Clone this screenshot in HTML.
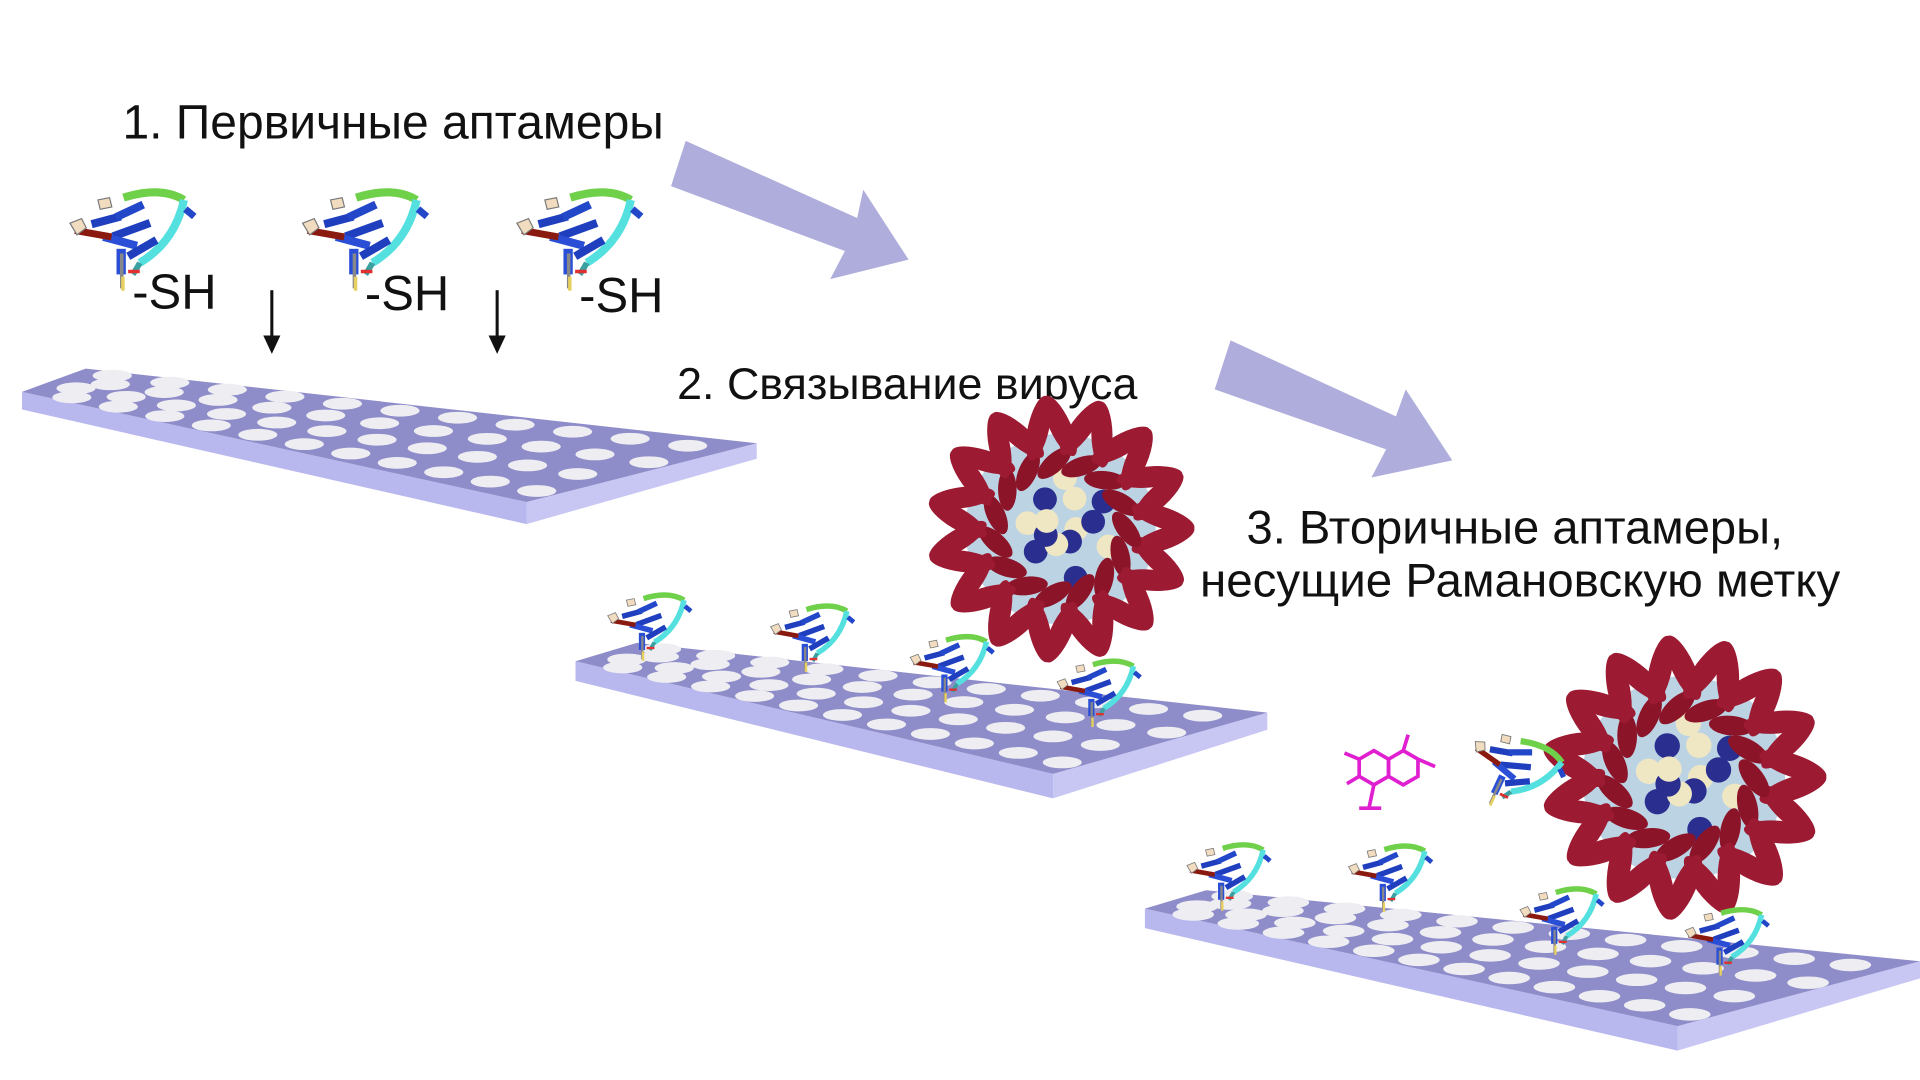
<!DOCTYPE html>
<html><head><meta charset="utf-8"><style>
html,body{margin:0;padding:0;background:#fff;}
svg{display:block}
text{font-family:"Liberation Sans","DejaVu Sans",sans-serif;fill:#111}
</style></head><body>
<svg id="s" width="1920" height="1080" viewBox="0 0 1568 882" xmlns="http://www.w3.org/2000/svg">
<defs>
<symbol id="apt" viewBox="0 0 110 100" overflow="visible">
<path d="M48 12 Q80 2 100 14" stroke="#6fd14a" stroke-width="7" fill="none"/>
<path d="M100 14 Q92 50 62 68" stroke="#55e0e0" stroke-width="7" fill="none"/>
<path d="M62 68 Q60 72 56 78" stroke="#3aa0a0" stroke-width="5" fill="none"/>
<rect x="20" y="28" width="26" height="7" fill="#1f3fbf" transform="rotate(-15 33 31)"/>
<rect x="40" y="20" width="26" height="7" fill="#2347c9" transform="rotate(-25 53 23)"/>
<rect x="38" y="36" width="34" height="7" fill="#1f3fbf" transform="rotate(-20 55 40)"/>
<rect x="30" y="46" width="30" height="7" fill="#2a4fd6" transform="rotate(15 45 50)"/>
<rect x="50" y="52" width="28" height="7" fill="#1f3fbf" transform="rotate(-30 64 55)"/>
<rect x="6" y="40" width="32" height="6" fill="#8a1a10" transform="rotate(10 22 43)"/>
<polygon points="2,34 12,30 16,38 8,44" fill="#f2dcc0" stroke="#777"/>
<polygon points="26,14 36,12 38,20 28,22" fill="#f2dcc0" stroke="#777"/>
<rect x="100" y="22" width="10" height="6" fill="#2347c9" transform="rotate(40 105 25)"/>
<rect x="42" y="56" width="8" height="22" fill="#2a4fd6"/>
<rect x="45" y="60" width="3" height="30" fill="#888"/>
<rect x="46" y="80" width="3" height="12" fill="#e6d060"/>
<rect x="52" y="74" width="10" height="3" fill="#e03030"/>
</symbol>
</defs>

<text x="100" y="113" font-size="39.2">1. Первичные аптамеры</text>
<text x="553" y="326" font-size="36.6">2. Связывание вируса</text>
<text x="1018" y="444" font-size="38.5">3. Вторичные аптамеры,</text>
<text x="980" y="487" font-size="38.8">несущие Рамановскую метку</text>
<text x="108" y="252" font-size="40">-SH</text>
<text x="298" y="253" font-size="40">-SH</text>
<text x="473" y="255" font-size="40">-SH</text>

<polygon points="560,115 700,178 705,155 742,212 678,228 690,205 548,152" fill="#aeaddc"/>
<polygon points="1005,278 1140,340 1148,318 1186,376 1120,390 1132,367 992,318" fill="#aeaddc"/>

<line x1="222" y1="237" x2="222" y2="278" stroke="#111" stroke-width="2.5"/>
<polygon points="215,274 229,274 222,289" fill="#111"/>
<line x1="406" y1="237" x2="406" y2="278" stroke="#111" stroke-width="2.5"/>
<polygon points="399,274 413,274 406,289" fill="#111"/>

<g id="plates"></g>

<use href="#apt" x="55" y="150" width="105" height="95"/>
<use href="#apt" x="245" y="150" width="105" height="95"/>
<use href="#apt" x="420" y="150" width="105" height="95"/>

<g id="viruses"></g>

<use href="#apt" x="495" y="478" width="70" height="70"/>
<use href="#apt" x="628" y="487" width="70" height="70"/>
<use href="#apt" x="742" y="512" width="70" height="70"/>
<use href="#apt" x="862" y="532" width="70" height="70"/>
<use href="#apt" x="968" y="682" width="70" height="70"/>
<use href="#apt" x="1100" y="683" width="70" height="70"/>
<use href="#apt" x="1240" y="718" width="70" height="70"/>
<use href="#apt" x="1375" y="735" width="70" height="70"/>
<use href="#apt" x="1195" y="595" width="80" height="75" transform="rotate(25 1235 632)"/>
<g stroke="#e020d0" stroke-width="3" fill="none">
<polygon points="1110,620 1122,613 1134,620 1134,634 1122,641 1110,634"/>
<polygon points="1134,620 1146,613 1158,620 1158,634 1146,641 1134,634"/>
<path d="M1098,615 L1110,620 M1122,641 L1118,660 M1110,660 L1128,660 M1146,613 L1150,600 M1158,620 L1172,626 M1100,640 L1110,634"/>
</g>
</svg>
<script>
const NS="http://www.w3.org/2000/svg";
function el(p,t,a){const e=document.createElementNS(NS,t);for(const k in a)e.setAttribute(k,a[k]);p.appendChild(e);return e;}
const P=document.getElementById('plates');
function plate(A,B,C,D,th,rows,cols,rx){
 el(P,'polygon',{points:`${A} ${D} ${D[0]},${D[1]+th} ${A[0]},${A[1]+th*0.8}`,fill:'#b9b8ee'});
 el(P,'polygon',{points:`${D} ${C} ${C[0]},${C[1]+th*0.7} ${D[0]},${D[1]+th}`,fill:'#c8c7f4'});
 el(P,'polygon',{points:`${A} ${B} ${C} ${D}`,fill:'#8f8dc9'});
 for(let r=0;r<rows;r++)for(let c=0;c<cols;c++){
  const u=(c+0.6+(r%2)*0.3)/(cols+0.3), v=(r+0.5)/rows;
  const bx=B[0]+(C[0]-B[0])*u, by=B[1]+(C[1]-B[1])*u;
  const fx=A[0]+(D[0]-A[0])*u, fy=A[1]+(D[1]-A[1])*u;
  const x=bx+(fx-bx)*v, y=by+(fy-by)*v;
  el(P,'ellipse',{cx:x,cy:y,rx:rx,ry:rx*0.3,fill:'#eeeef2'});
 }
}
plate([18,320],[70,301],[618,362],[430,410],18,4,11,16);
plate([470,540],[520,525],[1035,582],[860,632],20,4,11,16);
plate([935,742],[985,727],[1568,785],[1370,838],20,4,12,17);
const V=document.getElementById('viruses');
function virus(cx,cy,R){
 el(V,'circle',{cx,cy,r:R*0.72,fill:'#bcd3e4'});
 for(let i=0;i<14;i++){const a=i*2.4,d=R*0.4*((i%3)/3+0.3);
  el(V,'circle',{cx:cx+Math.cos(a)*d,cy:cy+Math.sin(a)*d,r:R*0.09,fill:i%2?'#2a2f8f':'#efe6c4'});}
 const n=30;
 for(let i=0;i<n;i++){const a=i/n*Math.PI*2+0.1;
  const x=cx+Math.cos(a)*R*0.78,y=cy+Math.sin(a)*R*0.78;
  el(V,'ellipse',{cx:x,cy:y,rx:R*0.25,ry:R*0.08,fill:'#9c1a32',transform:`rotate(${a*180/Math.PI+(i%2?25:-25)} ${x} ${y})`});
  const x2=cx+Math.cos(a+0.12)*R*0.5,y2=cy+Math.sin(a+0.12)*R*0.5;
  if(i%2)el(V,'ellipse',{cx:x2,cy:y2,rx:R*0.16,ry:R*0.07,fill:'#8c1428',transform:`rotate(${a*180/Math.PI+60} ${x2} ${y2})`});
 }
}
virus(866,432,108);
virus(1375,635,115);
</script>
</body></html>
